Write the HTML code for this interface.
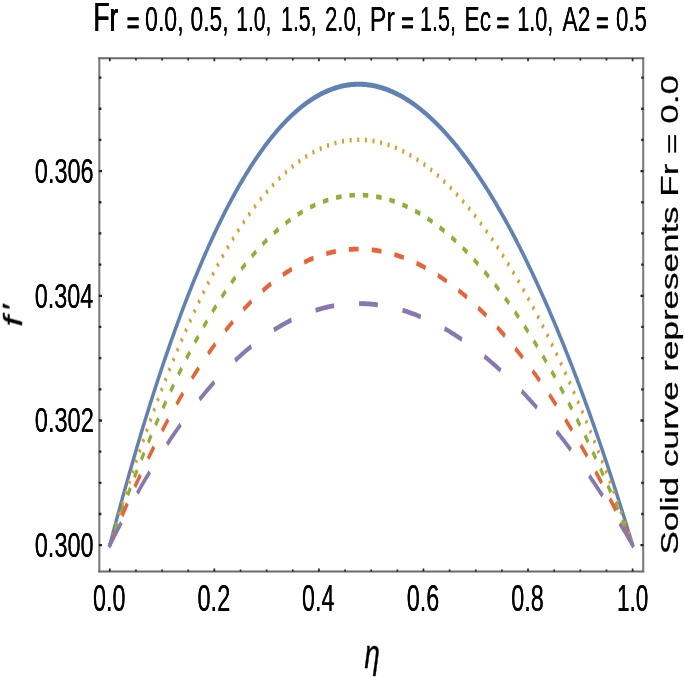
<!DOCTYPE html>
<html lang="en"><head><meta charset="utf-8"><title>Plot</title><style>html,body{margin:0;padding:0;background:#fff}svg{display:block}</style></head><body>
<svg width="685" height="678" viewBox="0 0 685 678" style="display:block">
<defs><filter id="hb" x="-5%" y="-5%" width="110%" height="110%"><feOffset in="SourceGraphic" dx="0.35" dy="0" result="a"/><feOffset in="SourceGraphic" dx="-0.35" dy="0" result="b"/><feMerge><feMergeNode in="a"/><feMergeNode in="b"/></feMerge></filter><filter id="hb2" x="-10%" y="-10%" width="120%" height="120%"><feOffset in="SourceGraphic" dx="0.45" dy="0" result="a"/><feOffset in="SourceGraphic" dx="-0.45" dy="0" result="b"/><feMerge><feMergeNode in="a"/><feMergeNode in="b"/></feMerge></filter><filter id="soft" x="0" y="0" width="100%" height="100%" filterUnits="userSpaceOnUse"><feGaussianBlur stdDeviation="0.4"/></filter></defs>
<rect width="685" height="678" fill="#fff"/>
<g filter="url(#soft)">
<g transform="scale(1,1.526)" fill="none" stroke-linejoin="round">
<polyline points="109.80,357.27 111.11,354.01 112.41,350.76 113.72,347.52 115.03,344.31 116.33,341.11 117.64,337.93 118.95,334.77 120.26,331.63 121.56,328.51 122.87,325.40 124.18,322.32 125.48,319.25 126.79,316.20 128.10,313.16 129.41,310.15 130.71,307.15 132.02,304.17 133.33,301.21 134.63,298.27 135.94,295.35 137.25,292.44 138.55,289.56 139.86,286.69 141.17,283.84 142.47,281.00 143.78,278.19 145.09,275.39 146.40,272.62 147.70,269.86 149.01,267.11 150.32,264.39 151.62,261.69 152.93,259.00 154.24,256.33 155.55,253.68 156.85,251.05 158.16,248.44 159.47,245.84 160.77,243.26 162.08,240.71 163.39,238.16 164.69,235.64 166.00,233.14 167.31,230.65 168.62,228.18 169.92,225.73 171.23,223.30 172.54,220.89 173.84,218.50 175.15,216.12 176.46,213.76 177.76,211.42 179.07,209.10 180.38,206.79 181.69,204.51 182.99,202.24 184.30,199.99 185.61,197.76 186.91,195.54 188.22,193.35 189.53,191.17 190.83,189.01 192.14,186.87 193.45,184.75 194.75,182.64 196.06,180.56 197.37,178.49 198.68,176.44 199.98,174.40 201.29,172.39 202.60,170.39 203.90,168.41 205.21,166.45 206.52,164.51 207.82,162.58 209.13,160.67 210.44,158.78 211.75,156.91 213.05,155.06 214.36,153.22 215.67,151.40 216.97,149.60 218.28,147.82 219.59,146.06 220.90,144.31 222.20,142.58 223.51,140.87 224.82,139.17 226.12,137.50 227.43,135.84 228.74,134.20 230.04,132.58 231.35,130.97 232.66,129.38 233.97,127.81 235.27,126.26 236.58,124.72 237.89,123.20 239.19,121.70 240.50,120.22 241.81,118.75 243.11,117.31 244.42,115.88 245.73,114.46 247.04,113.07 248.34,111.69 249.65,110.33 250.96,108.98 252.26,107.65 253.57,106.34 254.88,105.05 256.18,103.78 257.49,102.52 258.80,101.28 260.11,100.05 261.41,98.85 262.72,97.66 264.03,96.49 265.33,95.33 266.64,94.19 267.95,93.07 269.25,91.97 270.56,90.88 271.87,89.81 273.18,88.75 274.48,87.72 275.79,86.70 277.10,85.69 278.40,84.71 279.71,83.74 281.02,82.78 282.32,81.85 283.63,80.93 284.94,80.02 286.25,79.14 287.55,78.27 288.86,77.42 290.17,76.58 291.47,75.76 292.78,74.96 294.09,74.17 295.39,73.40 296.70,72.64 298.01,71.91 299.31,71.18 300.62,70.48 301.93,69.79 303.24,69.12 304.54,68.46 305.85,67.82 307.16,67.20 308.46,66.59 309.77,66.00 311.08,65.42 312.39,64.86 313.69,64.32 315.00,63.79 316.31,63.28 317.61,62.79 318.92,62.31 320.23,61.84 321.53,61.40 322.84,60.97 324.15,60.55 325.46,60.15 326.76,59.77 328.07,59.40 329.38,59.04 330.68,58.71 331.99,58.39 333.30,58.08 334.60,57.79 335.91,57.52 337.22,57.26 338.53,57.01 339.83,56.79 341.14,56.57 342.45,56.38 343.75,56.19 345.06,56.03 346.37,55.88 347.67,55.74 348.98,55.62 350.29,55.52 351.60,55.43 352.90,55.35 354.21,55.29 355.52,55.25 356.82,55.22 358.13,55.21 359.44,55.21 360.74,55.22 362.05,55.26 363.36,55.30 364.67,55.36 365.97,55.44 367.28,55.53 368.59,55.64 369.89,55.76 371.20,55.89 372.51,56.04 373.81,56.21 375.12,56.39 376.43,56.58 377.74,56.79 379.04,57.02 380.35,57.26 381.66,57.51 382.96,57.78 384.27,58.06 385.58,58.36 386.88,58.67 388.19,59.00 389.50,59.34 390.81,59.69 392.11,60.06 393.42,60.45 394.73,60.84 396.03,61.26 397.34,61.68 398.65,62.12 399.95,62.58 401.26,63.05 402.57,63.53 403.88,64.03 405.18,64.54 406.49,65.07 407.80,65.61 409.10,66.16 410.41,66.73 411.72,67.31 413.02,67.91 414.33,68.52 415.64,69.15 416.95,69.79 418.25,70.44 419.56,71.10 420.87,71.78 422.17,72.48 423.48,73.19 424.79,73.91 426.09,74.64 427.40,75.39 428.71,76.16 430.02,76.93 431.32,77.72 432.63,78.53 433.94,79.34 435.24,80.18 436.55,81.02 437.86,81.88 439.16,82.75 440.47,83.64 441.78,84.54 443.09,85.45 444.39,86.38 445.70,87.32 447.01,88.27 448.31,89.24 449.62,90.22 450.93,91.21 452.23,92.22 453.54,93.24 454.85,94.27 456.16,95.32 457.46,96.38 458.77,97.45 460.08,98.54 461.38,99.64 462.69,100.76 464.00,101.88 465.30,103.02 466.61,104.18 467.92,105.34 469.23,106.52 470.53,107.72 471.84,108.92 473.15,110.14 474.45,111.38 475.76,112.62 477.07,113.88 478.37,115.15 479.68,116.44 480.99,117.74 482.30,119.05 483.60,120.37 484.91,121.71 486.22,123.06 487.52,124.42 488.83,125.80 490.14,127.19 491.44,128.59 492.75,130.01 494.06,131.44 495.37,132.88 496.67,134.33 497.98,135.80 499.29,137.28 500.59,138.77 501.90,140.28 503.21,141.80 504.51,143.33 505.82,144.88 507.13,146.44 508.44,148.01 509.74,149.59 511.05,151.19 512.36,152.80 513.66,154.42 514.97,156.06 516.28,157.71 517.58,159.37 518.89,161.04 520.20,162.73 521.50,164.43 522.81,166.15 524.12,167.87 525.43,169.61 526.73,171.36 528.04,173.13 529.35,174.91 530.65,176.70 531.96,178.50 533.27,180.32 534.58,182.15 535.88,183.99 537.19,185.85 538.50,187.72 539.80,189.60 541.11,191.49 542.42,193.40 543.72,195.32 545.03,197.25 546.34,199.20 547.65,201.16 548.95,203.13 550.26,205.12 551.57,207.12 552.87,209.13 554.18,211.16 555.49,213.19 556.79,215.24 558.10,217.31 559.41,219.39 560.72,221.48 562.02,223.58 563.33,225.70 564.64,227.83 565.94,229.97 567.25,232.13 568.56,234.30 569.86,236.48 571.17,238.67 572.48,240.88 573.79,243.11 575.09,245.34 576.40,247.59 577.71,249.85 579.01,252.13 580.32,254.42 581.63,256.72 582.93,259.04 584.24,261.37 585.55,263.71 586.86,266.07 588.16,268.44 589.47,270.82 590.78,273.22 592.08,275.63 593.39,278.05 594.70,280.49 596.00,282.94 597.31,285.41 598.62,287.89 599.93,290.38 601.23,292.89 602.54,295.41 603.85,297.94 605.15,300.49 606.46,303.05 607.77,305.63 609.07,308.22 610.38,310.82 611.69,313.44 613.00,316.07 614.30,318.72 615.61,321.38 616.92,324.06 618.22,326.74 619.53,329.45 620.84,332.17 622.14,334.90 623.45,337.64 624.76,340.40 626.07,343.18 627.37,345.97 628.68,348.77 629.99,351.59 631.29,354.43 632.60,357.27" stroke="#5e81b5" stroke-width="3.3"/>
<polyline points="109.80,357.27 111.11,354.40 112.41,351.54 113.72,348.70 115.03,345.87 116.33,343.06 117.64,340.26 118.95,337.49 120.26,334.72 121.56,331.98 122.87,329.24 124.18,326.53 125.48,323.83 126.79,321.15 128.10,318.48 129.41,315.83 130.71,313.19 132.02,310.57 133.33,307.97 134.63,305.38 135.94,302.81 137.25,300.26 138.55,297.72 139.86,295.19 141.17,292.69 142.47,290.20 143.78,287.72 145.09,285.26 146.40,282.82 147.70,280.39 149.01,277.98 150.32,275.59 151.62,273.21 152.93,270.84 154.24,268.50 155.55,266.17 156.85,263.85 158.16,261.55 159.47,259.27 160.77,257.00 162.08,254.75 163.39,252.52 164.69,250.30 166.00,248.10 167.31,245.91 168.62,243.74 169.92,241.59 171.23,239.45 172.54,237.33 173.84,235.22 175.15,233.13 176.46,231.06 177.76,229.00 179.07,226.96 180.38,224.93 181.69,222.92 182.99,220.92 184.30,218.95 185.61,216.98 186.91,215.04 188.22,213.11 189.53,211.19 190.83,209.29 192.14,207.41 193.45,205.54 194.75,203.69 196.06,201.85 197.37,200.03 198.68,198.23 199.98,196.44 201.29,194.67 202.60,192.91 203.90,191.17 205.21,189.45 206.52,187.74 207.82,186.05 209.13,184.37 210.44,182.71 211.75,181.06 213.05,179.43 214.36,177.82 215.67,176.22 216.97,174.63 218.28,173.06 219.59,171.51 220.90,169.98 222.20,168.45 223.51,166.95 224.82,165.46 226.12,163.99 227.43,162.53 228.74,161.08 230.04,159.66 231.35,158.24 232.66,156.85 233.97,155.47 235.27,154.10 236.58,152.75 237.89,151.41 239.19,150.09 240.50,148.79 241.81,147.50 243.11,146.23 244.42,144.97 245.73,143.73 247.04,142.50 248.34,141.28 249.65,140.09 250.96,138.91 252.26,137.74 253.57,136.59 254.88,135.45 256.18,134.33 257.49,133.22 258.80,132.13 260.11,131.05 261.41,129.99 262.72,128.95 264.03,127.92 265.33,126.90 266.64,125.90 267.95,124.91 269.25,123.94 270.56,122.98 271.87,122.04 273.18,121.11 274.48,120.20 275.79,119.31 277.10,118.42 278.40,117.56 279.71,116.70 281.02,115.86 282.32,115.04 283.63,114.23 284.94,113.44 286.25,112.66 287.55,111.89 288.86,111.14 290.17,110.41 291.47,109.69 292.78,108.98 294.09,108.29 295.39,107.61 296.70,106.95 298.01,106.30 299.31,105.66 300.62,105.04 301.93,104.44 303.24,103.85 304.54,103.27 305.85,102.71 307.16,102.16 308.46,101.62 309.77,101.10 311.08,100.60 312.39,100.10 313.69,99.63 315.00,99.16 316.31,98.71 317.61,98.28 318.92,97.86 320.23,97.45 321.53,97.06 322.84,96.68 324.15,96.31 325.46,95.96 326.76,95.62 328.07,95.30 329.38,94.99 330.68,94.69 331.99,94.41 333.30,94.14 334.60,93.88 335.91,93.64 337.22,93.41 338.53,93.20 339.83,93.00 341.14,92.81 342.45,92.64 343.75,92.48 345.06,92.33 346.37,92.20 347.67,92.08 348.98,91.98 350.29,91.88 351.60,91.81 352.90,91.74 354.21,91.69 355.52,91.65 356.82,91.62 358.13,91.61 359.44,91.61 360.74,91.63 362.05,91.66 363.36,91.70 364.67,91.75 365.97,91.82 367.28,91.90 368.59,91.99 369.89,92.10 371.20,92.22 372.51,92.35 373.81,92.49 375.12,92.65 376.43,92.82 377.74,93.01 379.04,93.21 380.35,93.42 381.66,93.64 382.96,93.87 384.27,94.12 385.58,94.38 386.88,94.66 388.19,94.94 389.50,95.24 390.81,95.56 392.11,95.88 393.42,96.22 394.73,96.57 396.03,96.93 397.34,97.31 398.65,97.70 399.95,98.10 401.26,98.51 402.57,98.93 403.88,99.37 405.18,99.82 406.49,100.29 407.80,100.76 409.10,101.25 410.41,101.75 411.72,102.26 413.02,102.79 414.33,103.32 415.64,103.87 416.95,104.43 418.25,105.01 419.56,105.59 420.87,106.19 422.17,106.80 423.48,107.42 424.79,108.06 426.09,108.71 427.40,109.36 428.71,110.04 430.02,110.72 431.32,111.41 432.63,112.12 433.94,112.84 435.24,113.57 436.55,114.32 437.86,115.07 439.16,115.84 440.47,116.62 441.78,117.41 443.09,118.21 444.39,119.03 445.70,119.85 447.01,120.69 448.31,121.54 449.62,122.40 450.93,123.28 452.23,124.16 453.54,125.06 454.85,125.97 456.16,126.89 457.46,127.82 458.77,128.77 460.08,129.72 461.38,130.69 462.69,131.67 464.00,132.66 465.30,133.67 466.61,134.68 467.92,135.71 469.23,136.74 470.53,137.79 471.84,138.85 473.15,139.93 474.45,141.01 475.76,142.11 477.07,143.21 478.37,144.33 479.68,145.46 480.99,146.60 482.30,147.76 483.60,148.92 484.91,150.10 486.22,151.29 487.52,152.49 488.83,153.70 490.14,154.92 491.44,156.15 492.75,157.40 494.06,158.65 495.37,159.92 496.67,161.20 497.98,162.49 499.29,163.79 500.59,165.11 501.90,166.43 503.21,167.77 504.51,169.12 505.82,170.48 507.13,171.85 508.44,173.23 509.74,174.62 511.05,176.03 512.36,177.44 513.66,178.87 514.97,180.31 516.28,181.76 517.58,183.22 518.89,184.69 520.20,186.18 521.50,187.67 522.81,189.18 524.12,190.70 525.43,192.23 526.73,193.77 528.04,195.32 529.35,196.89 530.65,198.46 531.96,200.05 533.27,201.65 534.58,203.25 535.88,204.88 537.19,206.51 538.50,208.15 539.80,209.81 541.11,211.47 542.42,213.15 543.72,214.84 545.03,216.54 546.34,218.25 547.65,219.98 548.95,221.71 550.26,223.46 551.57,225.22 552.87,226.98 554.18,228.77 555.49,230.56 556.79,232.36 558.10,234.18 559.41,236.00 560.72,237.84 562.02,239.69 563.33,241.55 564.64,243.43 565.94,245.31 567.25,247.21 568.56,249.12 569.86,251.04 571.17,252.97 572.48,254.91 573.79,256.87 575.09,258.83 576.40,260.81 577.71,262.80 579.01,264.80 580.32,266.82 581.63,268.84 582.93,270.88 584.24,272.93 585.55,274.99 586.86,277.06 588.16,279.14 589.47,281.24 590.78,283.35 592.08,285.47 593.39,287.60 594.70,289.74 596.00,291.90 597.31,294.07 598.62,296.25 599.93,298.44 601.23,300.65 602.54,302.86 603.85,305.09 605.15,307.33 606.46,309.59 607.77,311.85 609.07,314.13 610.38,316.42 611.69,318.72 613.00,321.04 614.30,323.37 615.61,325.71 616.92,328.06 618.22,330.42 619.53,332.80 620.84,335.19 622.14,337.59 623.45,340.01 624.76,342.44 626.07,344.88 627.37,347.33 628.68,349.80 629.99,352.28 631.29,354.77 632.60,357.27" stroke="#e19c24" stroke-width="3.0" stroke-dasharray="2.0 5.634" stroke-dashoffset="1.0"/>
<polyline points="109.80,357.27 111.11,354.79 112.41,352.32 113.72,349.87 115.03,347.42 116.33,345.00 117.64,342.58 118.95,340.18 120.26,337.80 121.56,335.42 122.87,333.06 124.18,330.72 125.48,328.39 126.79,326.07 128.10,323.77 129.41,321.48 130.71,319.20 132.02,316.94 133.33,314.69 134.63,312.45 135.94,310.23 137.25,308.03 138.55,305.83 139.86,303.65 141.17,301.49 142.47,299.34 143.78,297.20 145.09,295.07 146.40,292.96 147.70,290.87 149.01,288.79 150.32,286.72 151.62,284.66 152.93,282.62 154.24,280.59 155.55,278.58 156.85,276.58 158.16,274.60 159.47,272.63 160.77,270.67 162.08,268.72 163.39,266.79 164.69,264.88 166.00,262.98 167.31,261.09 168.62,259.21 169.92,257.35 171.23,255.50 172.54,253.67 173.84,251.85 175.15,250.05 176.46,248.26 177.76,246.48 179.07,244.71 180.38,242.96 181.69,241.23 182.99,239.50 184.30,237.79 185.61,236.10 186.91,234.42 188.22,232.75 189.53,231.10 190.83,229.46 192.14,227.83 193.45,226.22 194.75,224.62 196.06,223.03 197.37,221.46 198.68,219.90 199.98,218.36 201.29,216.83 202.60,215.31 203.90,213.81 205.21,212.32 206.52,210.84 207.82,209.38 209.13,207.93 210.44,206.49 211.75,205.07 213.05,203.66 214.36,202.27 215.67,200.89 216.97,199.52 218.28,198.17 219.59,196.83 220.90,195.50 222.20,194.18 223.51,192.88 224.82,191.60 226.12,190.32 227.43,189.06 228.74,187.82 230.04,186.58 231.35,185.36 232.66,184.16 233.97,182.96 235.27,181.78 236.58,180.62 237.89,179.47 239.19,178.33 240.50,177.20 241.81,176.09 243.11,174.99 244.42,173.90 245.73,172.82 247.04,171.76 248.34,170.72 249.65,169.68 250.96,168.66 252.26,167.65 253.57,166.66 254.88,165.68 256.18,164.71 257.49,163.75 258.80,162.81 260.11,161.88 261.41,160.96 262.72,160.06 264.03,159.17 265.33,158.29 266.64,157.43 267.95,156.57 269.25,155.74 270.56,154.91 271.87,154.10 273.18,153.30 274.48,152.51 275.79,151.73 277.10,150.97 278.40,150.22 279.71,149.48 281.02,148.76 282.32,148.05 283.63,147.35 284.94,146.66 286.25,145.99 287.55,145.33 288.86,144.68 290.17,144.05 291.47,143.42 292.78,142.81 294.09,142.22 295.39,141.63 296.70,141.06 298.01,140.50 299.31,139.95 300.62,139.41 301.93,138.89 303.24,138.38 304.54,137.88 305.85,137.39 307.16,136.92 308.46,136.46 309.77,136.01 311.08,135.57 312.39,135.15 313.69,134.74 315.00,134.33 316.31,133.95 317.61,133.57 318.92,133.21 320.23,132.85 321.53,132.51 322.84,132.19 324.15,131.87 325.46,131.57 326.76,131.28 328.07,131.00 329.38,130.73 330.68,130.47 331.99,130.23 333.30,130.00 334.60,129.77 335.91,129.57 337.22,129.37 338.53,129.18 339.83,129.01 341.14,128.85 342.45,128.70 343.75,128.56 345.06,128.44 346.37,128.32 347.67,128.22 348.98,128.13 350.29,128.05 351.60,127.98 352.90,127.92 354.21,127.88 355.52,127.85 356.82,127.82 358.13,127.81 359.44,127.81 360.74,127.83 362.05,127.85 363.36,127.89 364.67,127.93 365.97,127.99 367.28,128.06 368.59,128.14 369.89,128.23 371.20,128.33 372.51,128.45 373.81,128.57 375.12,128.71 376.43,128.86 377.74,129.02 379.04,129.19 380.35,129.37 381.66,129.56 382.96,129.77 384.27,129.98 385.58,130.21 386.88,130.44 388.19,130.69 389.50,130.95 390.81,131.22 392.11,131.50 393.42,131.79 394.73,132.09 396.03,132.41 397.34,132.73 398.65,133.07 399.95,133.41 401.26,133.77 402.57,134.14 403.88,134.52 405.18,134.90 406.49,135.30 407.80,135.71 409.10,136.14 410.41,136.57 411.72,137.01 413.02,137.46 414.33,137.93 415.64,138.40 416.95,138.89 418.25,139.38 419.56,139.89 420.87,140.41 422.17,140.93 423.48,141.47 424.79,142.02 426.09,142.58 427.40,143.15 428.71,143.73 430.02,144.32 431.32,144.92 432.63,145.53 433.94,146.15 435.24,146.78 436.55,147.42 437.86,148.07 439.16,148.74 440.47,149.41 441.78,150.09 443.09,150.79 444.39,151.49 445.70,152.20 447.01,152.93 448.31,153.66 449.62,154.41 450.93,155.16 452.23,155.93 453.54,156.70 454.85,157.49 456.16,158.28 457.46,159.09 458.77,159.91 460.08,160.73 461.38,161.57 462.69,162.41 464.00,163.27 465.30,164.14 466.61,165.01 467.92,165.90 469.23,166.79 470.53,167.70 471.84,168.62 473.15,169.54 474.45,170.48 475.76,171.43 477.07,172.38 478.37,173.35 479.68,174.33 480.99,175.31 482.30,176.31 483.60,177.31 484.91,178.33 486.22,179.36 487.52,180.39 488.83,181.44 490.14,182.49 491.44,183.56 492.75,184.63 494.06,185.72 495.37,186.81 496.67,187.92 497.98,189.03 499.29,190.16 500.59,191.29 501.90,192.44 503.21,193.59 504.51,194.76 505.82,195.93 507.13,197.11 508.44,198.31 509.74,199.51 511.05,200.72 512.36,201.95 513.66,203.18 514.97,204.42 516.28,205.68 517.58,206.94 518.89,208.21 520.20,209.49 521.50,210.78 522.81,212.09 524.12,213.40 525.43,214.72 526.73,216.05 528.04,217.39 529.35,218.74 530.65,220.10 531.96,221.47 533.27,222.85 534.58,224.24 535.88,225.64 537.19,227.05 538.50,228.47 539.80,229.90 541.11,231.34 542.42,232.79 543.72,234.25 545.03,235.72 546.34,237.20 547.65,238.68 548.95,240.18 550.26,241.69 551.57,243.21 552.87,244.74 554.18,246.28 555.49,247.83 556.79,249.38 558.10,250.95 559.41,252.53 560.72,254.12 562.02,255.72 563.33,257.32 564.64,258.94 565.94,260.57 567.25,262.21 568.56,263.86 569.86,265.51 571.17,267.18 572.48,268.86 573.79,270.55 575.09,272.25 576.40,273.95 577.71,275.67 579.01,277.40 580.32,279.14 581.63,280.89 582.93,282.65 584.24,284.42 585.55,286.20 586.86,287.99 588.16,289.79 589.47,291.60 590.78,293.42 592.08,295.25 593.39,297.09 594.70,298.95 596.00,300.81 597.31,302.68 598.62,304.57 599.93,306.46 601.23,308.36 602.54,310.28 603.85,312.20 605.15,314.14 606.46,316.09 607.77,318.04 609.07,320.01 610.38,321.99 611.69,323.98 613.00,325.98 614.30,327.99 615.61,330.01 616.92,332.04 618.22,334.08 619.53,336.14 620.84,338.20 622.14,340.28 623.45,342.36 624.76,344.46 626.07,346.57 627.37,348.69 628.68,350.82 629.99,352.96 631.29,355.11 632.60,357.27" stroke="#8fb032" stroke-width="3.05" stroke-dasharray="5.5 7.89" stroke-dashoffset="2.75"/>
<polyline points="109.80,357.27 111.11,355.17 112.41,353.09 113.72,351.01 115.03,348.95 116.33,346.89 117.64,344.85 118.95,342.82 120.26,340.80 121.56,338.80 122.87,336.80 124.18,334.82 125.48,332.85 126.79,330.89 128.10,328.94 129.41,327.00 130.71,325.08 132.02,323.16 133.33,321.26 134.63,319.37 135.94,317.49 137.25,315.63 138.55,313.77 139.86,311.93 141.17,310.10 142.47,308.28 143.78,306.47 145.09,304.68 146.40,302.89 147.70,301.12 149.01,299.36 150.32,297.61 151.62,295.87 152.93,294.15 154.24,292.43 155.55,290.73 156.85,289.04 158.16,287.36 159.47,285.69 160.77,284.04 162.08,282.39 163.39,280.76 164.69,279.14 166.00,277.53 167.31,275.94 168.62,274.35 169.92,272.78 171.23,271.22 172.54,269.67 173.84,268.13 175.15,266.60 176.46,265.09 177.76,263.58 179.07,262.09 180.38,260.61 181.69,259.14 182.99,257.69 184.30,256.24 185.61,254.81 186.91,253.38 188.22,251.97 189.53,250.58 190.83,249.19 192.14,247.81 193.45,246.45 194.75,245.10 196.06,243.76 197.37,242.43 198.68,241.11 199.98,239.80 201.29,238.51 202.60,237.23 203.90,235.96 205.21,234.70 206.52,233.45 207.82,232.21 209.13,230.99 210.44,229.77 211.75,228.57 213.05,227.38 214.36,226.20 215.67,225.03 216.97,223.87 218.28,222.73 219.59,221.60 220.90,220.47 222.20,219.36 223.51,218.26 224.82,217.17 226.12,216.10 227.43,215.03 228.74,213.98 230.04,212.94 231.35,211.90 232.66,210.88 233.97,209.87 235.27,208.88 236.58,207.89 237.89,206.92 239.19,205.95 240.50,205.00 241.81,204.06 243.11,203.13 244.42,202.21 245.73,201.30 247.04,200.40 248.34,199.52 249.65,198.64 250.96,197.78 252.26,196.93 253.57,196.09 254.88,195.26 256.18,194.44 257.49,193.63 258.80,192.83 260.11,192.04 261.41,191.27 262.72,190.51 264.03,189.75 265.33,189.01 266.64,188.28 267.95,187.56 269.25,186.85 270.56,186.15 271.87,185.46 273.18,184.79 274.48,184.12 275.79,183.46 277.10,182.82 278.40,182.19 279.71,181.56 281.02,180.95 282.32,180.35 283.63,179.76 284.94,179.18 286.25,178.61 287.55,178.05 288.86,177.50 290.17,176.97 291.47,176.44 292.78,175.92 294.09,175.42 295.39,174.92 296.70,174.44 298.01,173.96 299.31,173.50 300.62,173.05 301.93,172.60 303.24,172.17 304.54,171.75 305.85,171.34 307.16,170.94 308.46,170.55 309.77,170.17 311.08,169.80 312.39,169.44 313.69,169.09 315.00,168.75 316.31,168.42 317.61,168.11 318.92,167.80 320.23,167.50 321.53,167.21 322.84,166.94 324.15,166.67 325.46,166.41 326.76,166.16 328.07,165.93 329.38,165.70 330.68,165.49 331.99,165.28 333.30,165.08 334.60,164.90 335.91,164.72 337.22,164.55 338.53,164.40 339.83,164.25 341.14,164.11 342.45,163.99 343.75,163.87 345.06,163.76 346.37,163.67 347.67,163.58 348.98,163.50 350.29,163.44 351.60,163.38 352.90,163.33 354.21,163.29 355.52,163.26 356.82,163.25 358.13,163.24 359.44,163.24 360.74,163.25 362.05,163.27 363.36,163.30 364.67,163.34 365.97,163.39 367.28,163.45 368.59,163.51 369.89,163.59 371.20,163.68 372.51,163.77 373.81,163.88 375.12,164.00 376.43,164.12 377.74,164.26 379.04,164.40 380.35,164.55 381.66,164.72 382.96,164.89 384.27,165.07 385.58,165.26 386.88,165.46 388.19,165.67 389.50,165.89 390.81,166.12 392.11,166.36 393.42,166.60 394.73,166.86 396.03,167.12 397.34,167.40 398.65,167.68 399.95,167.97 401.26,168.27 402.57,168.58 403.88,168.90 405.18,169.23 406.49,169.57 407.80,169.92 409.10,170.28 410.41,170.64 411.72,171.01 413.02,171.40 414.33,171.79 415.64,172.19 416.95,172.60 418.25,173.02 419.56,173.45 420.87,173.89 422.17,174.33 423.48,174.79 424.79,175.25 426.09,175.72 427.40,176.20 428.71,176.69 430.02,177.19 431.32,177.70 432.63,178.22 433.94,178.74 435.24,179.28 436.55,179.82 437.86,180.37 439.16,180.93 440.47,181.50 441.78,182.08 443.09,182.66 444.39,183.26 445.70,183.86 447.01,184.48 448.31,185.10 449.62,185.73 450.93,186.36 452.23,187.01 453.54,187.67 454.85,188.33 456.16,189.00 457.46,189.69 458.77,190.38 460.08,191.07 461.38,191.78 462.69,192.50 464.00,193.22 465.30,193.95 466.61,194.69 467.92,195.44 469.23,196.20 470.53,196.97 471.84,197.74 473.15,198.53 474.45,199.32 475.76,200.12 477.07,200.93 478.37,201.74 479.68,202.57 480.99,203.40 482.30,204.25 483.60,205.10 484.91,205.96 486.22,206.82 487.52,207.70 488.83,208.58 490.14,209.48 491.44,210.38 492.75,211.29 494.06,212.20 495.37,213.13 496.67,214.06 497.98,215.01 499.29,215.96 500.59,216.92 501.90,217.89 503.21,218.86 504.51,219.85 505.82,220.84 507.13,221.84 508.44,222.85 509.74,223.87 511.05,224.89 512.36,225.93 513.66,226.97 514.97,228.02 516.28,229.08 517.58,230.15 518.89,231.22 520.20,232.31 521.50,233.40 522.81,234.50 524.12,235.61 525.43,236.73 526.73,237.85 528.04,238.99 529.35,240.13 530.65,241.28 531.96,242.44 533.27,243.60 534.58,244.78 535.88,245.96 537.19,247.16 538.50,248.36 539.80,249.56 541.11,250.78 542.42,252.01 543.72,253.24 545.03,254.48 546.34,255.73 547.65,256.99 548.95,258.26 550.26,259.54 551.57,260.82 552.87,262.11 554.18,263.41 555.49,264.72 556.79,266.04 558.10,267.37 559.41,268.70 560.72,270.04 562.02,271.39 563.33,272.75 564.64,274.12 565.94,275.50 567.25,276.88 568.56,278.28 569.86,279.68 571.17,281.09 572.48,282.51 573.79,283.94 575.09,285.37 576.40,286.82 577.71,288.27 579.01,289.73 580.32,291.20 581.63,292.68 582.93,294.17 584.24,295.67 585.55,297.17 586.86,298.69 588.16,300.21 589.47,301.74 590.78,303.28 592.08,304.83 593.39,306.39 594.70,307.95 596.00,309.53 597.31,311.11 598.62,312.70 599.93,314.30 601.23,315.91 602.54,317.53 603.85,319.16 605.15,320.80 606.46,322.44 607.77,324.10 609.07,325.76 610.38,327.44 611.69,329.12 613.00,330.81 614.30,332.51 615.61,334.22 616.92,335.94 618.22,337.66 619.53,339.40 620.84,341.14 622.14,342.90 623.45,344.66 624.76,346.44 626.07,348.22 627.37,350.01 628.68,351.81 629.99,353.62 631.29,355.44 632.60,357.27" stroke="#eb6235" stroke-width="3.15" stroke-dasharray="9.7 13.13" stroke-dashoffset="0"/>
<polyline points="109.80,357.27 111.11,355.56 112.41,353.86 113.72,352.16 115.03,350.48 116.33,348.80 117.64,347.14 118.95,345.48 120.26,343.83 121.56,342.20 122.87,340.57 124.18,338.95 125.48,337.34 126.79,335.74 128.10,334.15 129.41,332.57 130.71,331.00 132.02,329.44 133.33,327.89 134.63,326.35 135.94,324.82 137.25,323.29 138.55,321.78 139.86,320.28 141.17,318.78 142.47,317.30 143.78,315.82 145.09,314.36 146.40,312.90 147.70,311.45 149.01,310.02 150.32,308.59 151.62,307.17 152.93,305.76 154.24,304.37 155.55,302.98 156.85,301.60 158.16,300.23 159.47,298.87 160.77,297.52 162.08,296.17 163.39,294.84 164.69,293.52 166.00,292.21 167.31,290.91 168.62,289.61 169.92,288.33 171.23,287.05 172.54,285.79 173.84,284.53 175.15,283.29 176.46,282.05 177.76,280.83 179.07,279.61 180.38,278.40 181.69,277.20 182.99,276.01 184.30,274.83 185.61,273.66 186.91,272.50 188.22,271.35 189.53,270.21 190.83,269.08 192.14,267.96 193.45,266.85 194.75,265.74 196.06,264.65 197.37,263.56 198.68,262.49 199.98,261.42 201.29,260.37 202.60,259.32 203.90,258.28 205.21,257.25 206.52,256.24 207.82,255.23 209.13,254.23 210.44,253.24 211.75,252.26 213.05,251.28 214.36,250.32 215.67,249.37 216.97,248.43 218.28,247.49 219.59,246.57 220.90,245.65 222.20,244.74 223.51,243.85 224.82,242.96 226.12,242.08 227.43,241.21 228.74,240.35 230.04,239.50 231.35,238.66 232.66,237.83 233.97,237.00 235.27,236.19 236.58,235.38 237.89,234.59 239.19,233.80 240.50,233.02 241.81,232.26 243.11,231.50 244.42,230.75 245.73,230.01 247.04,229.27 248.34,228.55 249.65,227.84 250.96,227.13 252.26,226.44 253.57,225.75 254.88,225.07 256.18,224.40 257.49,223.75 258.80,223.09 260.11,222.45 261.41,221.82 262.72,221.20 264.03,220.58 265.33,219.98 266.64,219.38 267.95,218.79 269.25,218.21 270.56,217.64 271.87,217.08 273.18,216.53 274.48,215.99 275.79,215.45 277.10,214.93 278.40,214.41 279.71,213.90 281.02,213.40 282.32,212.91 283.63,212.43 284.94,211.96 286.25,211.49 287.55,211.03 288.86,210.59 290.17,210.15 291.47,209.72 292.78,209.30 294.09,208.89 295.39,208.48 296.70,208.09 298.01,207.70 299.31,207.32 300.62,206.95 301.93,206.59 303.24,206.24 304.54,205.89 305.85,205.56 307.16,205.23 308.46,204.91 309.77,204.60 311.08,204.30 312.39,204.01 313.69,203.72 315.00,203.45 316.31,203.18 317.61,202.92 318.92,202.67 320.23,202.43 321.53,202.19 322.84,201.97 324.15,201.75 325.46,201.54 326.76,201.34 328.07,201.14 329.38,200.96 330.68,200.78 331.99,200.61 333.30,200.45 334.60,200.30 335.91,200.16 337.22,200.02 338.53,199.89 339.83,199.77 341.14,199.66 342.45,199.56 343.75,199.46 345.06,199.38 346.37,199.30 347.67,199.23 348.98,199.16 350.29,199.11 351.60,199.06 352.90,199.02 354.21,198.99 355.52,198.97 356.82,198.95 358.13,198.95 359.44,198.95 360.74,198.96 362.05,198.97 363.36,199.00 364.67,199.03 365.97,199.07 367.28,199.12 368.59,199.17 369.89,199.24 371.20,199.31 372.51,199.39 373.81,199.47 375.12,199.57 376.43,199.67 377.74,199.78 379.04,199.90 380.35,200.02 381.66,200.15 382.96,200.30 384.27,200.44 385.58,200.60 386.88,200.76 388.19,200.93 389.50,201.11 390.81,201.30 392.11,201.49 393.42,201.69 394.73,201.90 396.03,202.12 397.34,202.34 398.65,202.57 399.95,202.81 401.26,203.06 402.57,203.31 403.88,203.57 405.18,203.84 406.49,204.12 407.80,204.40 409.10,204.69 410.41,204.99 411.72,205.29 413.02,205.61 414.33,205.93 415.64,206.25 416.95,206.59 418.25,206.93 419.56,207.28 420.87,207.64 422.17,208.00 423.48,208.37 424.79,208.75 426.09,209.13 427.40,209.53 428.71,209.93 430.02,210.33 431.32,210.75 432.63,211.17 433.94,211.60 435.24,212.03 436.55,212.48 437.86,212.93 439.16,213.38 440.47,213.85 441.78,214.32 443.09,214.80 444.39,215.28 445.70,215.78 447.01,216.28 448.31,216.78 449.62,217.30 450.93,217.82 452.23,218.35 453.54,218.88 454.85,219.42 456.16,219.97 457.46,220.53 458.77,221.09 460.08,221.66 461.38,222.24 462.69,222.82 464.00,223.41 465.30,224.01 466.61,224.61 467.92,225.23 469.23,225.84 470.53,226.47 471.84,227.10 473.15,227.74 474.45,228.39 475.76,229.04 477.07,229.70 478.37,230.37 479.68,231.04 480.99,231.72 482.30,232.41 483.60,233.10 484.91,233.80 486.22,234.51 487.52,235.23 488.83,235.95 490.14,236.68 491.44,237.41 492.75,238.15 494.06,238.90 495.37,239.66 496.67,240.42 497.98,241.19 499.29,241.97 500.59,242.75 501.90,243.54 503.21,244.33 504.51,245.14 505.82,245.95 507.13,246.76 508.44,247.59 509.74,248.42 511.05,249.26 512.36,250.10 513.66,250.95 514.97,251.81 516.28,252.67 517.58,253.54 518.89,254.42 520.20,255.31 521.50,256.20 522.81,257.09 524.12,258.00 525.43,258.91 526.73,259.83 528.04,260.76 529.35,261.69 530.65,262.63 531.96,263.57 533.27,264.52 534.58,265.48 535.88,266.45 537.19,267.42 538.50,268.40 539.80,269.39 541.11,270.38 542.42,271.38 543.72,272.39 545.03,273.40 546.34,274.42 547.65,275.45 548.95,276.48 550.26,277.52 551.57,278.57 552.87,279.63 554.18,280.69 555.49,281.75 556.79,282.83 558.10,283.91 559.41,285.00 560.72,286.10 562.02,287.20 563.33,288.31 564.64,289.42 565.94,290.55 567.25,291.68 568.56,292.82 569.86,293.96 571.17,295.11 572.48,296.27 573.79,297.43 575.09,298.61 576.40,299.78 577.71,300.97 579.01,302.16 580.32,303.36 581.63,304.57 582.93,305.78 584.24,307.01 585.55,308.23 586.86,309.47 588.16,310.71 589.47,311.96 590.78,313.22 592.08,314.48 593.39,315.75 594.70,317.03 596.00,318.31 597.31,319.61 598.62,320.91 599.93,322.21 601.23,323.53 602.54,324.85 603.85,326.18 605.15,327.51 606.46,328.85 607.77,330.20 609.07,331.56 610.38,332.93 611.69,334.30 613.00,335.68 614.30,337.07 615.61,338.46 616.92,339.86 618.22,341.27 619.53,342.69 620.84,344.11 622.14,345.55 623.45,346.98 624.76,348.43 626.07,349.89 627.37,351.35 628.68,352.82 629.99,354.30 631.29,355.78 632.60,357.27" stroke="#8778b3" stroke-width="3.2" stroke-dasharray="18.8 24.96" stroke-dashoffset="0"/>
<path d="M108.83 358.55L110.10 356.88" stroke="#8778b3" stroke-width="3.2"/>
<path d="M633.65 358.48L632.27 356.90" stroke="#8778b3" stroke-width="3.2"/>
</g>
<path d="M99.3 57.599999999999994V572.2M643.2 57.599999999999994V572.2" stroke="#7d7d7d" stroke-width="2.1" fill="none"/>
<path d="M98.3 58.3H644.2M98.3 571.5H644.2" stroke="#6a6a6a" stroke-width="2.0" fill="none"/>
<path d="M109.80 571.5v-2.9M109.80 58.3v2.9M135.94 571.5v-2.1M135.94 58.3v2.1M162.08 571.5v-2.1M162.08 58.3v2.1M188.22 571.5v-2.1M188.22 58.3v2.1M214.36 571.5v-2.9M214.36 58.3v2.9M240.50 571.5v-2.1M240.50 58.3v2.1M266.64 571.5v-2.1M266.64 58.3v2.1M292.78 571.5v-2.1M292.78 58.3v2.1M318.92 571.5v-2.9M318.92 58.3v2.9M345.06 571.5v-2.1M345.06 58.3v2.1M371.20 571.5v-2.1M371.20 58.3v2.1M397.34 571.5v-2.1M397.34 58.3v2.1M423.48 571.5v-2.9M423.48 58.3v2.9M449.62 571.5v-2.1M449.62 58.3v2.1M475.76 571.5v-2.1M475.76 58.3v2.1M501.90 571.5v-2.1M501.90 58.3v2.1M528.04 571.5v-2.9M528.04 58.3v2.9M554.18 571.5v-2.1M554.18 58.3v2.1M580.32 571.5v-2.1M580.32 58.3v2.1M606.46 571.5v-2.1M606.46 58.3v2.1M632.60 571.5v-2.9M632.60 58.3v2.9" stroke="#222" stroke-width="1.7" fill="none"/>
<path d="M98.89999999999999 545.20h3.1M643.6 545.20h-3.1M98.89999999999999 514.02h2.4M643.6 514.02h-2.4M98.89999999999999 482.85h2.4M643.6 482.85h-2.4M98.89999999999999 451.67h2.4M643.6 451.67h-2.4M98.89999999999999 420.50h3.1M643.6 420.50h-3.1M98.89999999999999 389.32h2.4M643.6 389.32h-2.4M98.89999999999999 358.15h2.4M643.6 358.15h-2.4M98.89999999999999 326.97h2.4M643.6 326.97h-2.4M98.89999999999999 295.80h3.1M643.6 295.80h-3.1M98.89999999999999 264.62h2.4M643.6 264.62h-2.4M98.89999999999999 233.45h2.4M643.6 233.45h-2.4M98.89999999999999 202.27h2.4M643.6 202.27h-2.4M98.89999999999999 171.10h3.1M643.6 171.10h-3.1M98.89999999999999 139.92h2.4M643.6 139.92h-2.4M98.89999999999999 108.75h2.4M643.6 108.75h-2.4M98.89999999999999 77.57h2.4M643.6 77.57h-2.4" stroke="#222" stroke-width="2.3" fill="none"/>
<g filter="url(#hb)">
<text transform="translate(34.78,556.9) scale(0.6568,1)" font-size="35.8" text-anchor="start" fill="#000" font-family="Liberation Sans, Arial, Helvetica, sans-serif" >0.300</text>
<text transform="translate(34.78,432.2) scale(0.6598,1)" font-size="35.8" text-anchor="start" fill="#000" font-family="Liberation Sans, Arial, Helvetica, sans-serif" >0.302</text>
<text transform="translate(34.79,307.5) scale(0.6541,1)" font-size="35.8" text-anchor="start" fill="#000" font-family="Liberation Sans, Arial, Helvetica, sans-serif" >0.304</text>
<text transform="translate(34.78,182.8) scale(0.6581,1)" font-size="35.8" text-anchor="start" fill="#000" font-family="Liberation Sans, Arial, Helvetica, sans-serif" >0.306</text>
<text transform="translate(92.99,611.3) scale(0.6443,1)" font-size="36.2" text-anchor="start" fill="#000" font-family="Liberation Sans, Arial, Helvetica, sans-serif" >0.0</text>
<text transform="translate(197.54,611.3) scale(0.6498,1)" font-size="36.2" text-anchor="start" fill="#000" font-family="Liberation Sans, Arial, Helvetica, sans-serif" >0.2</text>
<text transform="translate(302.12,611.3) scale(0.6395,1)" font-size="36.2" text-anchor="start" fill="#000" font-family="Liberation Sans, Arial, Helvetica, sans-serif" >0.4</text>
<text transform="translate(406.67,611.3) scale(0.6467,1)" font-size="36.2" text-anchor="start" fill="#000" font-family="Liberation Sans, Arial, Helvetica, sans-serif" >0.6</text>
<text transform="translate(511.23,611.3) scale(0.6464,1)" font-size="36.2" text-anchor="start" fill="#000" font-family="Liberation Sans, Arial, Helvetica, sans-serif" >0.8</text>
<text transform="translate(616.98,611.3) scale(0.624,1)" font-size="36.2" text-anchor="start" fill="#000" font-family="Liberation Sans, Arial, Helvetica, sans-serif" >1.0</text>
<text transform="translate(93.45,30.8) scale(0.6406,1)" font-size="41" text-anchor="start" fill="#000" font-family="Liberation Sans, Arial, Helvetica, sans-serif" filter="url(#hb2)">Fr</text>
<text transform="translate(126.79,33.0) scale(0.68,1)" font-size="32" text-anchor="start" fill="#000" font-family="Liberation Sans, Arial, Helvetica, sans-serif" stroke="#000" stroke-width="0.4">=</text>
<text transform="translate(145.1,30.8) scale(0.6598,1)" font-size="35" text-anchor="start" fill="#000" font-family="Liberation Sans, Arial, Helvetica, sans-serif" >0.0,</text>
<text transform="translate(190.51,30.8) scale(0.6504,1)" font-size="35" text-anchor="start" fill="#000" font-family="Liberation Sans, Arial, Helvetica, sans-serif" >0.5,</text>
<text transform="translate(236.29,30.8) scale(0.6028,1)" font-size="35" text-anchor="start" fill="#000" font-family="Liberation Sans, Arial, Helvetica, sans-serif" >1.0,</text>
<text transform="translate(281.08,30.8) scale(0.6087,1)" font-size="35" text-anchor="start" fill="#000" font-family="Liberation Sans, Arial, Helvetica, sans-serif" >1.5,</text>
<text transform="translate(324.98,30.8) scale(0.6348,1)" font-size="35" text-anchor="start" fill="#000" font-family="Liberation Sans, Arial, Helvetica, sans-serif" >2.0,</text>
<text transform="translate(369.74,30.8) scale(0.7164,1)" font-size="35" text-anchor="start" fill="#000" font-family="Liberation Sans, Arial, Helvetica, sans-serif" >Pr</text>
<text transform="translate(401.29,33.0) scale(0.68,1)" font-size="32" text-anchor="start" fill="#000" font-family="Liberation Sans, Arial, Helvetica, sans-serif" stroke="#000" stroke-width="0.4">=</text>
<text transform="translate(420.06,30.8) scale(0.6155,1)" font-size="35" text-anchor="start" fill="#000" font-family="Liberation Sans, Arial, Helvetica, sans-serif" >1.5,</text>
<text transform="translate(464.54,30.8) scale(0.6478,1)" font-size="35" text-anchor="start" fill="#000" font-family="Liberation Sans, Arial, Helvetica, sans-serif" >Ec</text>
<text transform="translate(496.59,33.0) scale(0.68,1)" font-size="32" text-anchor="start" fill="#000" font-family="Liberation Sans, Arial, Helvetica, sans-serif" stroke="#000" stroke-width="0.4">=</text>
<text transform="translate(517.15,30.8) scale(0.6185,1)" font-size="35" text-anchor="start" fill="#000" font-family="Liberation Sans, Arial, Helvetica, sans-serif" >1.0,</text>
<text transform="translate(562.56,30.8) scale(0.6466,1)" font-size="35" text-anchor="start" fill="#000" font-family="Liberation Sans, Arial, Helvetica, sans-serif" >A2</text>
<text transform="translate(596.09,33.0) scale(0.68,1)" font-size="32" text-anchor="start" fill="#000" font-family="Liberation Sans, Arial, Helvetica, sans-serif" stroke="#000" stroke-width="0.4">=</text>
<text transform="translate(616.03,30.8) scale(0.6351,1)" font-size="35" text-anchor="start" fill="#000" font-family="Liberation Sans, Arial, Helvetica, sans-serif" >0.5</text>
</g>
<text transform="translate(678,554.5) rotate(-90) scale(1,0.67)" font-size="35" text-anchor="start" fill="#000" font-family="Liberation Sans, Arial, Helvetica, sans-serif" stroke="#000" stroke-width="0.35">Solid curve represents Fr <tspan dy="3">=</tspan><tspan dy="-3"> 0.0</tspan></text>
<text transform="translate(372.2,667.6) scale(0.68,1)" font-size="40.5" text-anchor="middle" fill="#000" font-family="Liberation Sans, Arial, Helvetica, sans-serif" font-style="italic" stroke="#000" stroke-width="0.5">η</text>
<text transform="translate(22.3,326.6) rotate(-90) scale(0.95,0.66)" font-size="40" fill="#000" stroke="#000" stroke-width="0.5" font-style="italic" font-family="Liberation Sans, Arial, Helvetica, sans-serif">f<tspan dx="4.6" dy="-2.7">′</tspan></text>
</g>
</svg>
</body></html>
